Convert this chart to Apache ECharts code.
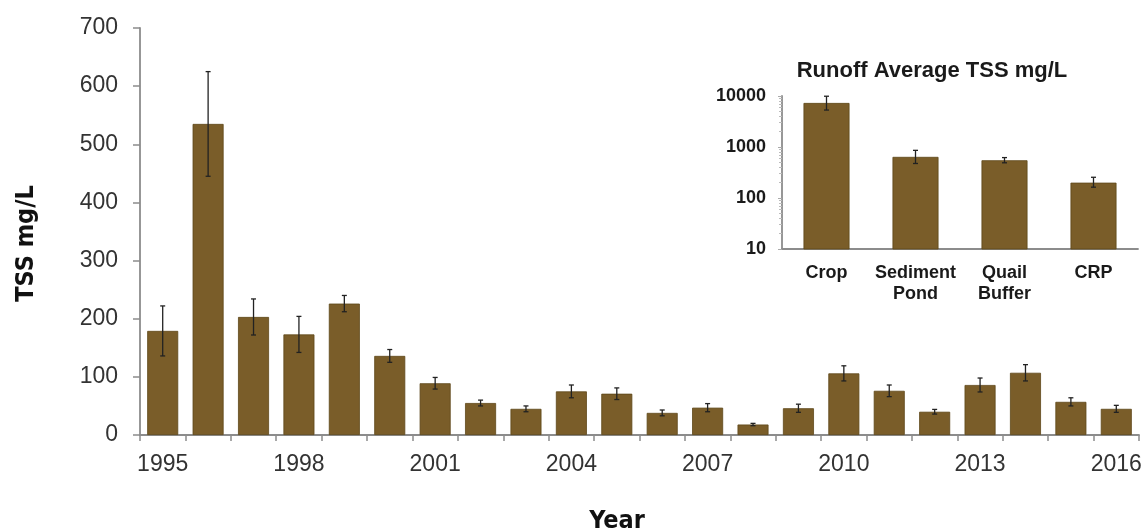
<!DOCTYPE html>
<html><head><meta charset="utf-8">
<script src="https://cdn.jsdelivr.net/npm/echarts@6/dist/echarts.min.js"></script>
<style>html,body{margin:0;padding:0;background:#fff}#c{width:1146px;height:529px}</style>
</head><body><div id="c"></div>
<script>
const years = ['1995','1996','1997','1998','1999','2000','2001','2002','2003','2004','2005','2006','2007','2008','2009','2010','2011','2012','2013','2014','2015','2016'];
const tss = [179,535,203,173,226,136,89,55,45,75,71,38,47,18,46,106,76,40,86,107,57,45];
const tssErr = [43,90,31,31,14,11,10,5,5,11,10,5,7,2,7,13,10,4,12,14,7,6];
const insetCats = ['Crop','Sediment\nPond','Quail\nBuffer','CRP'];
const insetMean = [7300,640,550,200];
const insetLow = [5300,475,490,163];
const insetHigh = [9900,860,620,255];
const yMin = 0, yMax = 700, yStep = 100;
const insetMin = 10, insetMax = 10000;

const barColor = '#7a5d29';
const axisGray = '#8c8c8c';
const mainFont = '"Liberation Sans", Arial, sans-serif';
const condFont = '"DejaVu Sans Condensed", "Liberation Sans Narrow", sans-serif';

function errItem(params, api) {
  const x = api.value(0), lo = api.value(1), hi = api.value(2);
  const pLo = api.coord([x, lo]), pHi = api.coord([x, hi]);
  const w = 2.5;
  const st = {stroke: '#222', lineWidth: 1.3};
  return {type: 'group', children: [
    {type: 'line', shape: {x1: pLo[0], y1: pLo[1], x2: pHi[0], y2: pHi[1]}, style: st},
    {type: 'line', shape: {x1: pLo[0]-w, y1: pLo[1], x2: pLo[0]+w, y2: pLo[1]}, style: st},
    {type: 'line', shape: {x1: pHi[0]-w, y1: pHi[1], x2: pHi[0]+w, y2: pHi[1]}, style: st}
  ]};
}

const mainErrData = tss.map((v, i) => [i, v - tssErr[i], v + tssErr[i]]);
const insetErrData = insetMean.map((v, i) => [i, insetLow[i], insetHigh[i]]);

const chart = echarts.init(document.getElementById('c'), null, {renderer: 'canvas'});
chart.setOption({
  animation: false,
  backgroundColor: '#fff',
  title: [
    {text: 'Runoff Average TSS mg/L', left: 927, top: 55, textAlign: 'center',
     textStyle: {fontFamily: mainFont, fontWeight: 'bold', fontSize: 22, color: '#1a1a1a'}},
    {text: 'Year', left: 612, top: 504, textAlign: 'center',
     textStyle: {fontFamily: condFont, fontWeight: 'bold', fontSize: 25, color: '#111'}}
  ],
  grid: [
    {left: 140, right: 7, top: 28, bottom: 94, containLabel: false},
    {left: 782, right: 8, top: 96, bottom: 280, containLabel: false}
  ],
  xAxis: [
    {type: 'category', gridIndex: 0, data: years, boundaryGap: true,
     axisLine: {lineStyle: {color: axisGray, width: 1.8}},
     axisTick: {show: true, interval: 0, length: 6, lineStyle: {color: axisGray, width: 1.5}},
     axisLabel: {interval: 2, margin: 18, color: '#333', fontFamily: mainFont, fontSize: 23}},
    {type: 'category', gridIndex: 1, data: insetCats, boundaryGap: true,
     axisLine: {lineStyle: {color: axisGray, width: 1.8}},
     axisTick: {show: false},
     axisLabel: {interval: 0, margin: 14, color: '#1a1a1a', fontFamily: mainFont, fontWeight: 'bold', fontSize: 18, lineHeight: 21}}
  ],
  yAxis: [
    {type: 'value', gridIndex: 0, min: yMin, max: yMax, interval: yStep,
     name: 'TSS mg/L', nameLocation: 'middle', nameRotate: 90, nameGap: 101,
     nameTextStyle: {fontFamily: condFont, fontWeight: 'bold', fontSize: 25, color: '#111', padding: [0, 24, 0, 0]},
     splitLine: {show: false},
     axisLine: {show: true, lineStyle: {color: axisGray, width: 1.8}},
     axisTick: {show: true, length: 7, lineStyle: {color: axisGray, width: 1.5}},
     axisLabel: {margin: 22, color: '#333', fontFamily: mainFont, fontSize: 23}},
    {type: 'log', gridIndex: 1, logBase: 10, min: insetMin, max: insetMax,
     splitLine: {show: false},
     axisLine: {show: true, lineStyle: {color: axisGray, width: 1.8}},
     axisTick: {show: true, length: 4, inside: false, lineStyle: {color: '#aaa', width: 1}},
     minorTick: {show: true, splitNumber: 9, length: 3, lineStyle: {color: '#bbb', width: 1}},
     axisLabel: {margin: 16, color: '#1a1a1a', fontFamily: mainFont, fontWeight: 'bold', fontSize: 18,
       formatter: v => String(Math.round(v))}}
  ],
  series: [
    {type: 'bar', xAxisIndex: 0, yAxisIndex: 0, data: tss, barWidth: 31,
     itemStyle: {color: barColor, borderColor: '#5e4719', borderWidth: 0.8}},
    {type: 'custom', xAxisIndex: 0, yAxisIndex: 0, renderItem: errItem, data: mainErrData,
     encode: {x: 0, y: [1, 2]}, z: 5},
    {type: 'bar', xAxisIndex: 1, yAxisIndex: 1, data: insetMean, barWidth: 46,
     itemStyle: {color: barColor, borderColor: '#5e4719', borderWidth: 0.8}},
    {type: 'custom', xAxisIndex: 1, yAxisIndex: 1, renderItem: errItem, data: insetErrData,
     encode: {x: 0, y: [1, 2]}, z: 5}
  ]
});
</script>
</body></html>
